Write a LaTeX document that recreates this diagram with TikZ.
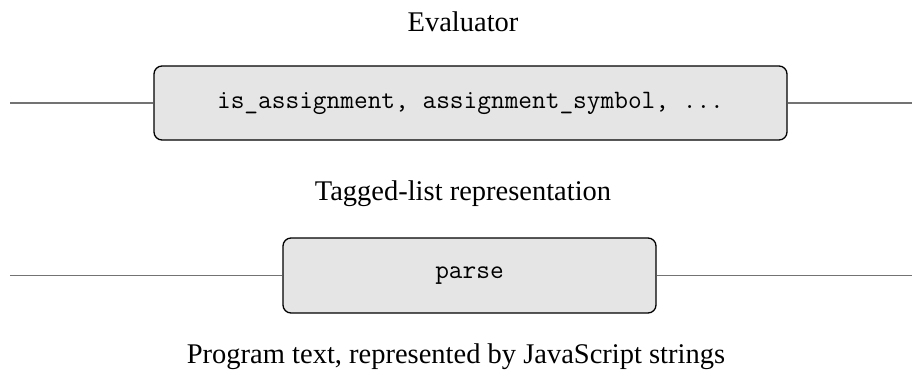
\documentclass[tikz,border=0pt]{standalone}
\usepackage{fontspec}
\setmainfont{Liberation Serif}
\begin{document}
\begin{tikzpicture}[x=1pt,y=-1pt,
  layerbox/.style={draw=black,line width=1.3pt,fill=black!10,rounded corners=8pt,inner sep=0pt},
  wire/.style={draw=black!55,line width=1.8pt},
  codetext/.style={font=\fontsize{26.6}{30}\selectfont\ttfamily},
  lbl/.style={font=\fontsize{28.5}{32}\selectfont,inner sep=0pt}]
\useasboundingbox (0,0) rectangle (912,381);
\node[lbl] (eval) at (463,22) {Evaluator};
\node[layerbox,codetext,minimum width=633pt,minimum height=74pt] (b1) at (470.5,103)
  {is\_assignment, assignment\_symbol, ...};
\node[lbl] (tag) at (463,194) {Tagged-list representation};
\node[layerbox,codetext,minimum width=373pt,minimum height=75pt] (b2) at (469.5,275.5)
  {parse};
\node[lbl] (prog) at (456,357) {Program text, represented by JavaScript strings};
\coordinate (l1) at (10,103);
\coordinate (r1) at (912,103);
\coordinate (l2) at (10,275.5);
\coordinate (r2) at (912,275.5);
\draw[wire] (l1) -- (b1.west);
\draw[wire] (b1.east) -- (r1);
\draw[wire] (l2) -- (b2.west);
\draw[wire] (b2.east) -- (r2);
\end{tikzpicture}
\end{document}
